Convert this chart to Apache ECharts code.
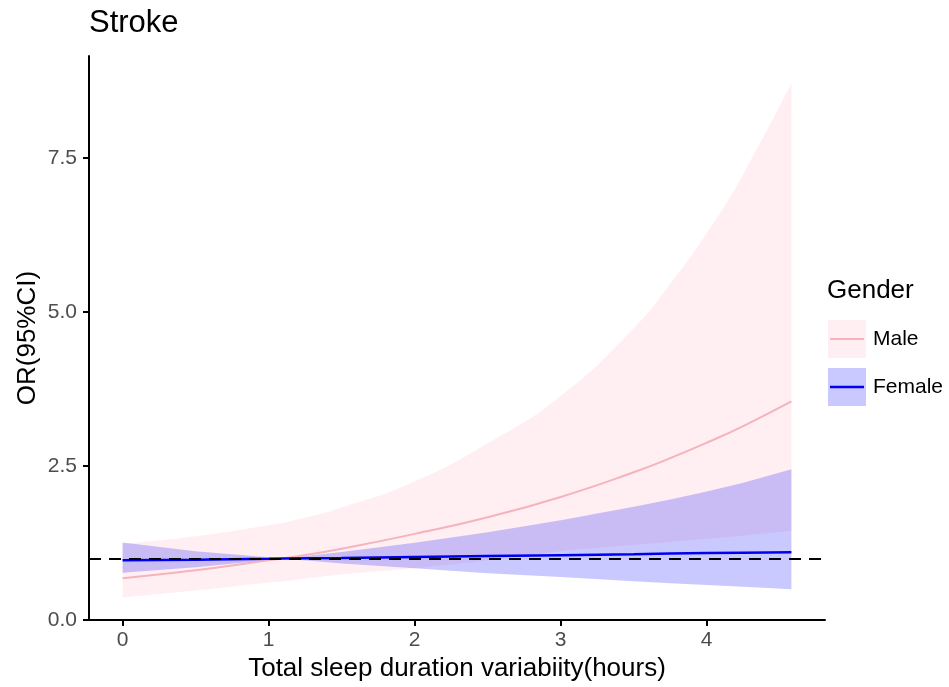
<!DOCTYPE html>
<html>
<head>
<meta charset="utf-8">
<title>Stroke</title>
<script src="https://cdn.jsdelivr.net/npm/echarts@6/dist/echarts.min.js"></script>
<style>
  html, body { margin: 0; padding: 0; background: #fff; }
  #chart { width: 949px; height: 687px; }
</style>
</head>
<body>
<div id="chart"></div>
<script>
// sleep duration variability (hours)
const xs = [0, 0.5, 1, 1.1, 1.5, 2, 2.5, 3, 3.5, 3.75, 4, 4.25, 4.58];

// Male OR with 95% CI
const maleOR = [0.68, 0.81, 0.97, 1.0, 1.16, 1.40, 1.67, 2.00, 2.40, 2.63, 2.88, 3.15, 3.55];
const maleUpper = [1.24, 1.36, 1.54, 1.58, 1.83, 2.25, 2.87, 3.64, 4.74, 5.46, 6.28, 7.24, 8.72];
const maleLower = [0.37, 0.48, 0.61, 0.63, 0.74, 0.84, 0.97, 1.12, 1.22, 1.27, 1.32, 1.37, 1.45];

// Female OR with 95% CI
const femaleOR = [0.97, 0.98, 0.995, 1.0, 1.01, 1.025, 1.04, 1.055, 1.07, 1.08, 1.09, 1.095, 1.10];
const femaleUpper = [1.26, 1.12, 1.02, 1.0, 1.105, 1.255, 1.425, 1.62, 1.84, 1.96, 2.09, 2.23, 2.45];
const femaleLower = [0.77, 0.86, 0.97, 1.0, 0.92, 0.84, 0.76, 0.70, 0.63, 0.60, 0.57, 0.54, 0.50];

const refOR = 1;
const xTicks = [0, 1, 2, 3, 4];
const yTicks = [0, 2.5, 5, 7.5];

const font = 'Liberation Sans, Arial, sans-serif';
const maleFill = 'rgba(255,192,203,0.25)';
const femaleFill = 'rgba(0,0,255,0.21)';
const maleColor = '#f5b3bc';
const femaleColor = '#0000f0';

// legend box position
const legLeft = 828;
const legTop = 320;
const keySize = 38;
const keyGap = 10;

const pairs = (ys) => xs.map((x, i) => [x, ys[i]]);
// ribbons are stacked on OR, so OR goes in the first dimension
const stackPairs = (ys) => xs.map((x, i) => [ys[i], x]);
const diffPairs = (hi, lo) => xs.map((x, i) => [+(hi[i] - lo[i]).toFixed(3), x]);

const chart = echarts.init(document.getElementById('chart'));

const ribbon = {
  type: 'line',
  showSymbol: false,
  silent: true,
  smooth: 0.5,
  dimensions: ['or', 'hours'],
  encode: { x: 'hours', y: 'or' },
  lineStyle: { width: 0, opacity: 0 }
};

const option = {
  animation: false,
  textStyle: { fontFamily: font },
  title: [
    {
      text: 'Stroke',
      left: 89,
      top: 8,
      padding: 0,
      textStyle: { fontSize: 31, fontWeight: 'normal', color: '#000', fontFamily: font }
    },
    {
      text: 'Gender',
      left: 827,
      top: 278,
      padding: 0,
      textStyle: { fontSize: 26, fontWeight: 'normal', color: '#000', fontFamily: font }
    }
  ],
  legend: {
    orient: 'vertical',
    left: legLeft,
    top: legTop,
    padding: 0,
    itemWidth: keySize,
    itemHeight: keySize,
    itemGap: keyGap,
    icon: 'rect',
    selectedMode: false,
    textStyle: { fontSize: 21, color: '#000', fontFamily: font, padding: [0, 0, 0, 2] },
    data: [
      { name: 'Male', itemStyle: { color: maleFill, borderWidth: 0 } },
      { name: 'Female', itemStyle: { color: femaleFill, borderWidth: 0 } }
    ]
  },
  graphic: [
    {
      type: 'line',
      z: 100,
      shape: { x1: legLeft + 2, y1: legTop + keySize / 2, x2: legLeft + keySize - 2, y2: legTop + keySize / 2 },
      style: { stroke: maleColor, lineWidth: 2 }
    },
    {
      type: 'line',
      z: 100,
      shape: {
        x1: legLeft + 2, y1: legTop + keySize + keyGap + keySize / 2,
        x2: legLeft + keySize - 2, y2: legTop + keySize + keyGap + keySize / 2
      },
      style: { stroke: femaleColor, lineWidth: 2.5 }
    }
  ],
  grid: { left: 89, right: 124, top: 56, bottom: 65 },
  xAxis: {
    type: 'value',
    min: -0.23,
    max: 4.81,
    name: 'Total sleep duration variabiity(hours)',
    nameLocation: 'middle',
    nameGap: 35,
    nameTextStyle: { fontSize: 26, color: '#000', fontFamily: font },
    splitLine: { show: false },
    axisLine: { onZero: false, lineStyle: { color: '#000', width: 2 } },
    axisTick: { customValues: xTicks, length: 6, lineStyle: { color: '#000', width: 2 } },
    axisLabel: { customValues: xTicks, fontSize: 21, color: '#4d4d4d', margin: 10, fontFamily: font }
  },
  yAxis: {
    type: 'value',
    min: 0,
    max: 9.16,
    name: 'OR(95%CI)',
    nameLocation: 'middle',
    nameGap: 48,
    nameMoveOverlap: false,
    nameTextStyle: { fontSize: 26, color: '#000', fontFamily: font },
    splitLine: { show: false },
    axisLine: { show: true, onZero: false, lineStyle: { color: '#000', width: 2 } },
    axisTick: { show: true, customValues: yTicks, length: 6, lineStyle: { color: '#000', width: 2 } },
    axisLabel: {
      customValues: yTicks,
      fontSize: 21,
      color: '#4d4d4d',
      margin: 12,
      fontFamily: font,
      formatter: (v) => v.toFixed(1)
    }
  },
  series: [
    Object.assign({}, ribbon, { name: 'maleLow', stack: 'male', data: stackPairs(maleLower) }),
    Object.assign({}, ribbon, {
      name: 'Male', stack: 'male', data: diffPairs(maleUpper, maleLower),
      itemStyle: { color: maleFill },
      areaStyle: { color: maleFill, opacity: 1 }
    }),
    Object.assign({}, ribbon, { name: 'femaleLow', stack: 'female', smooth: false, data: stackPairs(femaleLower) }),
    Object.assign({}, ribbon, {
      name: 'Female', stack: 'female', smooth: false, data: diffPairs(femaleUpper, femaleLower),
      itemStyle: { color: femaleFill },
      areaStyle: { color: femaleFill, opacity: 1 }
    }),
    {
      name: 'Male OR',
      type: 'line',
      smooth: 0.5,
      showSymbol: false,
      silent: true,
      lineStyle: { color: maleColor, width: 2 },
      data: pairs(maleOR)
    },
    {
      name: 'Female OR',
      type: 'line',
      showSymbol: false,
      silent: true,
      lineStyle: { color: femaleColor, width: 2.5 },
      data: pairs(femaleOR)
    },
    {
      name: 'ref',
      type: 'line',
      z: 5,
      data: [],
      markLine: {
        silent: true,
        symbol: 'none',
        label: { show: false },
        lineStyle: { color: '#000', type: [12, 8], width: 2.2 },
        data: [{ yAxis: refOR }]
      }
    }
  ]
};

chart.setOption(option);
</script>
</body>
</html>
